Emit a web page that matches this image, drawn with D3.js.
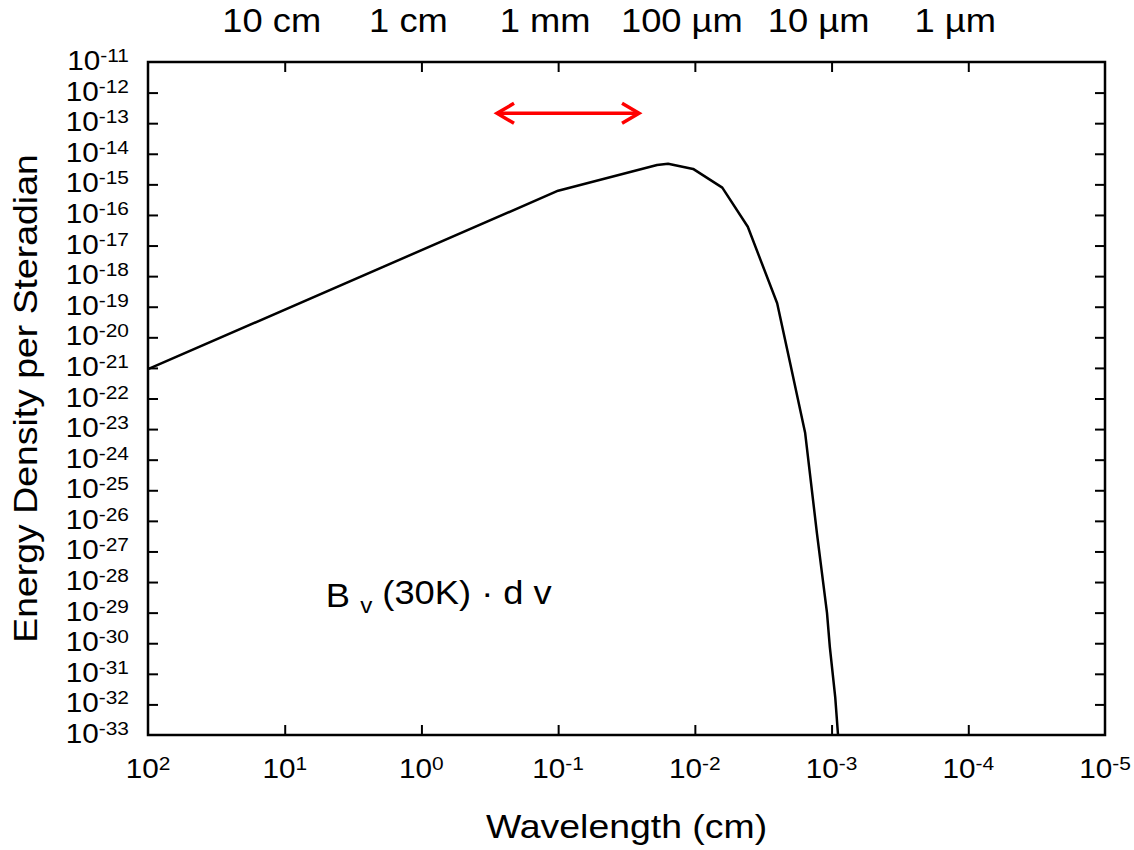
<!DOCTYPE html>
<html>
<head>
<meta charset="utf-8">
<script src="https://cdn.jsdelivr.net/npm/d3@7"></script>
<style>
  body { margin: 0; background: #fff; }
  text { font-family: Arial, "Liberation Sans", sans-serif; fill: #000; }
</style>
</head>
<body>
<script>
// wavelength (cm) and B_v(30K) dv
var wavelengths = [100, 0.1, 0.0189, 0.0157, 0.0103, 0.0063, 0.0041, 0.0025, 0.00201, 0.00156, 0.00128, 0.00108, 0.00103, 0.00094, 0.000897];
var energies = [9.1e-22, 6.2e-16, 4.3e-15, 4.7e-15, 3.2e-15, 7.8e-16, 4.1e-17, 1.3e-19, 1.45e-21, 7.4e-24, 4e-27, 9.8e-30, 7.6e-31, 1.7e-32, 1e-33];

var xTickExps = [2, 1, 0, -1, -2, -3, -4, -5];
var yTickExps = d3.range(-11, -34, -1);
var topLabels = ["10 cm", "1 cm", "1 mm", "100 µm", "10 µm", "1 µm"];
var topLabelWl = [10, 1, 0.1, 0.01, 0.001, 0.0001];

// red double arrow (wavelength range of the band)
var arrowWl = [0.28, 0.0256];
var arrowLevel = 2.1e-13;

var margin = {top: 62, right: 29, bottom: 115, left: 148};
var W = 1134, H = 850;
var width = W - margin.left - margin.right, height = H - margin.top - margin.bottom;

var x = d3.scaleLog().domain([1e2, 1e-5]).range([0, width]);
var y = d3.scaleLog().domain([1e-33, 1e-11]).range([height, 0]);

var svg = d3.select("body").append("svg")
    .attr("width", W)
    .attr("height", H);

var g = svg.append("g")
    .attr("transform", "translate(" + margin.left + "," + margin.top + ")");

// the original text is a little wider than Arial, so stretch it sideways
var stretch = 1.1;

function powLabel(sel, e) {
    sel.append("tspan").text("10");
    sel.append("tspan").attr("dy", "-0.42em").attr("font-size", "19px").text(e);
}

var inner = function(arr) { return arr.slice(1, arr.length - 1).map(function(e) { return Math.pow(10, e); }); };
var styleTicks = function(a) { a.select(".domain").remove(); a.selectAll("line").attr("stroke-width", 2); };

// ticks pointing inward on all four sides
g.append("g")
    .attr("transform", "translate(0," + height + ")")
    .call(d3.axisBottom(x).tickValues(inner(xTickExps)).tickSize(-10).tickFormat(""))
    .call(styleTicks);

g.append("g")
    .call(d3.axisTop(x).tickValues(inner(xTickExps)).tickSize(-10).tickFormat(""))
    .call(styleTicks);

g.append("g")
    .call(d3.axisLeft(y).tickValues(inner(yTickExps)).tickSize(-10).tickFormat(""))
    .call(styleTicks);

g.append("g")
    .attr("transform", "translate(" + width + ",0)")
    .call(d3.axisRight(y).tickValues(inner(yTickExps)).tickSize(-10).tickFormat(""))
    .call(styleTicks);

// tick labels
g.append("g").selectAll("text")
    .data(xTickExps)
    .join("text")
    .attr("transform", function(d) { return "translate(" + x(Math.pow(10, d)) + "," + (height + 43) + ") scale(" + stretch + ",1)"; })
    .attr("text-anchor", "middle")
    .attr("font-size", "27px")
    .each(function(d) { powLabel(d3.select(this), d); });

g.append("g").selectAll("text")
    .data(yTickExps)
    .join("text")
    .attr("transform", function(d) { return "translate(-19," + (y(Math.pow(10, d)) + 8) + ") scale(" + stretch + ",1)"; })
    .attr("text-anchor", "end")
    .attr("font-size", "27px")
    .each(function(d) { powLabel(d3.select(this), d); });

// top wavelength labels
g.append("g").selectAll("text")
    .data(topLabels)
    .join("text")
    .attr("transform", function(d, i) { return "translate(" + (x(topLabelWl[i]) - 13) + ",-30) scale(" + stretch + ",1)"; })
    .attr("text-anchor", "middle")
    .attr("font-size", "33px")
    .text(function(d) { return d; });

// curve
var pts = wavelengths.map(function(w, i) { return [w, energies[i]]; });
g.append("path")
    .datum(pts)
    .attr("fill", "none")
    .attr("stroke", "#000")
    .attr("stroke-width", 2.5)
    .attr("stroke-linejoin", "round")
    .attr("d", d3.line().x(function(d) { return x(d[0]); }).y(function(d) { return y(d[1]); }));

// frame
g.append("rect")
    .attr("width", width)
    .attr("height", height)
    .attr("fill", "none")
    .attr("stroke", "#000")
    .attr("stroke-width", 2.5);

// arrow
var defs = svg.append("defs");
["start", "end"].forEach(function(k) {
    defs.append("marker")
        .attr("id", "arr-" + k)
        .attr("markerUnits", "userSpaceOnUse")
        .attr("markerWidth", 40).attr("markerHeight", 40)
        .attr("viewBox", "-20 -20 40 40")
        .attr("refX", 0).attr("refY", 0)
        .attr("orient", "auto")
        .style("overflow", "visible")
        .append("path")
        .attr("d", k === "end" ? "M-17,-10L0,0L-17,10" : "M17,-10L0,0L17,10")
        .attr("fill", "none")
        .attr("stroke", "#f00")
        .attr("stroke-width", 3.5);
});

g.append("line")
    .attr("x1", x(arrowWl[0]))
    .attr("x2", x(arrowWl[1]))
    .attr("y1", y(arrowLevel))
    .attr("y2", y(arrowLevel))
    .attr("stroke", "#f00")
    .attr("stroke-width", 3.5)
    .attr("marker-start", "url(#arr-start)")
    .attr("marker-end", "url(#arr-end)");

// annotation
var note = g.append("text")
    .attr("transform", "translate(" + x(5) + "," + y(1.5e-29) + ") scale(" + stretch + ",1)")
    .attr("font-size", "33px");
note.append("tspan").text("B ");
note.append("tspan").attr("dy", "0.25em").attr("font-size", "22px").text("v");
note.append("tspan").attr("dy", "-0.25em").text(" (30K) · d v");

// axis titles
svg.append("text")
    .attr("transform", "translate(" + (margin.left + width / 2) + ",838) scale(" + stretch + ",1)")
    .attr("text-anchor", "middle")
    .attr("font-size", "34px")
    .text("Wavelength (cm)");

svg.append("text")
    .attr("transform", "translate(37," + (margin.top + height / 2) + ") rotate(-90) scale(" + stretch + ",1)")
    .attr("text-anchor", "middle")
    .attr("font-size", "34px")
    .text("Energy Density per Steradian");
</script>
</body>
</html>
